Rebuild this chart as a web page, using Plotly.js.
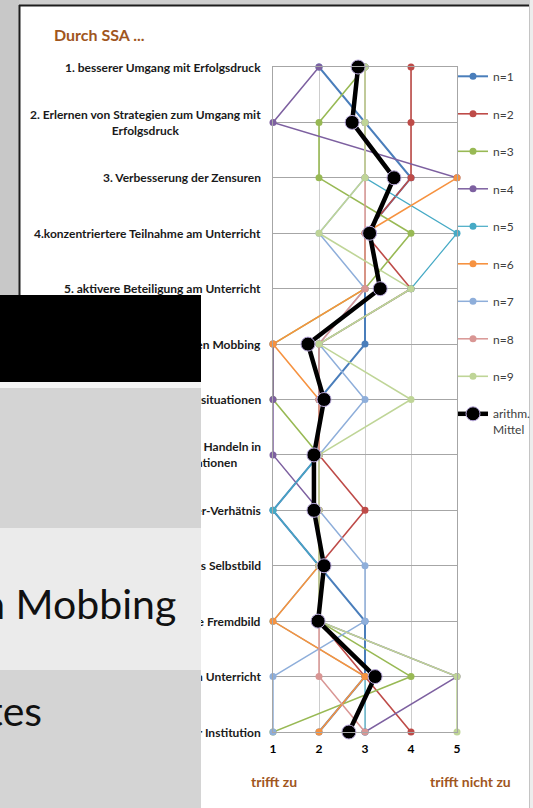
<!DOCTYPE html>
<html>
<head>
<meta charset="utf-8">
<script src="https://cdn.plot.ly/plotly-3.0.1.min.js"></script>
<style>html,body{margin:0;padding:0;overflow:hidden;background:#cfcfcf}</style>
</head>
<body>
<div id="chart" style="width:533px;height:808px"></div>
<script>
// ---------- data ----------
const categories = [
  "1. besserer Umgang mit Erfolgsdruck",
  "2. Erlernen von Strategien zum Umgang mit<br>Erfolgsdruck",
  "3. Verbesserung der Zensuren",
  "4.konzentriertere Teilnahme am Unterricht",
  "5. aktivere Beteiligung am Unterricht",
  "6. wirksameres Vorgehen gegen Mobbing",
  "7. besserer Umgang mit Konfliktsituationen",
  "8. sicheres und selbstbewusstes Handeln in<br>in schwierigen Konfliktsituationen",
  "9. besseres Lehrer-Schüler-Verhätnis",
  "10. positiveres Selbstbild",
  "11. das verbesserte Fremdbild",
  "12. mehr Motivation im schulischen Unterricht",
  "13. stärkere Identifikation mit der Institution"
];
const xTicks = [1, 2, 3, 4, 5];
const xTickLabels = ["1", "2", "3", "4", "5"];
const seriesNames = ["n=1","n=2","n=3","n=4","n=5","n=6","n=7","n=8","n=9"];
const n1 = [2,3,4,3,3,3,2,2,1,2,3,3,2];
const n2 = [4,4,4,3,4,2,2,2,3,2,2,3,4];
const n3 = [3,2,2,4,3,1,1,2,2,2,2,4,1];
const n4 = [2,1,5,null,null,1,1,1,2,2,2,5,3];
const n5 = [3,3,3,5,4,2,2,2,1,2,1,3,3];
const n6 = [null,null,5,3,3,1,2,2,2,2,1,3,2];
const n7 = [3,3,3,2,3,2,3,2,2,3,3,1,1];
const n8 = [3,3,3,3,3,2,2,2,2,2,2,2,3];
const n9 = [3,3,3,2,4,2,4,2,2,2,2,5,5];
const meanName = "arithm.<br>Mittel";
const mean = [2.85,2.72,3.63,3.1,3.33,1.76,2.11,1.89,1.89,2.11,1.98,3.22,2.65];

// ---------- styles ----------
const colors = ["#4A7EBB","#BE4B48","#98B954","#7D60A0","#46AAC5","#F69240","#8EAEDA","#D99694","#BFD597"];
const widths = [2,1.6,1.6,1.5,1.2,1.6,1.5,1.5,1.6];
const FONT = "Lato, 'Open Sans', sans-serif";
const BROWN = "#a0561e";

const allSeries = [n1,n2,n3,n4,n5,n6,n7,n8,n9];
const yPos = categories.map((c, i) => i + 1);

const traces = allSeries.map((vals, i) => ({
  type: "scatter", mode: "lines+markers",
  x: vals, y: yPos, name: seriesNames[i],
  legendgroup: "g" + i,
  connectgaps: false,
  cliponaxis: false,
  line: {color: colors[i], width: widths[i]},
  marker: {color: colors[i], size: 7, line: {width: 0}}
}));
traces.push({
  type: "scatter", mode: "lines+markers",
  x: mean, y: yPos, name: meanName, legendgroup: "gm",
  cliponaxis: false,
  line: {color: "#000000", width: 4.5},
  marker: {color: "#000000", size: 14, line: {color: "#b9a9dc", width: 1}}
});

// ---------- pixel helpers (layout only) ----------
const ML = 273, MR = 76, MT = 67, MB = 76, W = 533, H = 808;
const PW = W - ML - MR, PH = H - MT - MB;
const X = px => (px - ML) / PW;
const Y = py => (H - MB - py) / PH;

function box(x0, x1, y0, y1, color) {
  return {xref: "paper", yref: "paper", x: X((x0 + x1) / 2), y: Y((y0 + y1) / 2),
    xanchor: "center", yanchor: "middle", width: x1 - x0, height: y1 - y0,
    bgcolor: color, text: " ", showarrow: false, borderpad: 0, borderwidth: 0};
}

const annotations = [];
annotations.push({xref: "paper", yref: "paper", x: X(52), y: Y(35), xanchor: "left", yanchor: "middle",
  text: "Durch SSA ...", showarrow: false, font: {family: FONT, size: 16, weight: 700, color: BROWN}});
categories.forEach((c, i) => {
  annotations.push({xref: "paper", yref: "y", x: X(263), y: yPos[i], xanchor: "right", yanchor: "middle",
    align: "center", text: c, showarrow: false,
    font: {family: FONT, size: 12, weight: 700, color: "#1a1a1a"}});
});
annotations.push({xref: "paper", yref: "paper", x: X(274), y: Y(781), xanchor: "center", yanchor: "middle",
  text: "trifft zu", showarrow: false, font: {family: FONT, size: 14, weight: 700, color: BROWN}});
annotations.push({xref: "paper", yref: "paper", x: X(470), y: Y(781), xanchor: "center", yanchor: "middle",
  text: "trifft nicht zu", showarrow: false, font: {family: FONT, size: 14, weight: 700, color: BROWN}});
// overlapping slide panels
annotations.push(box(0, 201, 295, 382, "#000000"));
annotations.push(box(0, 201, 382, 388, "#f4f4f4"));
annotations.push(box(0, 201, 388, 528, "#d4d4d4"));
annotations.push(box(0, 201, 528, 670, "#ebebeb"));
annotations.push(box(0, 201, 670, 808, "#d4d4d4"));
annotations.push({xref: "paper", yref: "paper", x: X(178), y: Y(603), xanchor: "right", yanchor: "middle",
  text: "Vorgehen gegen Mobbing", showarrow: false, font: {family: FONT, size: 41, color: "#111111"}});
annotations.push({xref: "paper", yref: "paper", x: X(44), y: Y(710), xanchor: "right", yanchor: "middle",
  text: "Förderung des Selbstwertes", showarrow: false, font: {family: FONT, size: 41, color: "#111111"}});

const shapes = [
  {type: "rect", xref: "paper", yref: "paper", x0: X(0), x1: X(19), y0: Y(0), y1: Y(808), layer: "below",
   fillcolor: "#c8c8c8", line: {width: 0}},
  {type: "rect", xref: "paper", yref: "paper", x0: X(20), x1: X(529), y0: Y(6), y1: Y(808), layer: "below",
   fillcolor: "#ffffff", line: {width: 0}},
  {type: "rect", xref: "paper", yref: "paper", x0: X(530), x1: X(533), y0: Y(0), y1: Y(808), layer: "below",
   fillcolor: "#ededed", line: {width: 0}},
  {type: "line", xref: "paper", yref: "paper", x0: X(19.5), x1: X(19.5), y0: Y(5), y1: Y(808), layer: "below",
   line: {color: "#1e1e1e", width: 2}},
  {type: "line", xref: "paper", yref: "paper", x0: X(19), x1: X(529), y0: Y(5.5), y1: Y(5.5), layer: "below",
   line: {color: "#1e1e1e", width: 2}},
  {type: "line", xref: "paper", yref: "paper", x0: X(529.5), x1: X(529.5), y0: Y(5), y1: Y(808), layer: "below",
   line: {color: "#c4c4c4", width: 1}}
];

const layout = {
  width: W, height: H, autosize: false,
  margin: {l: ML, r: MR, t: MT, b: MB, pad: 0, autoexpand: false},
  paper_bgcolor: "#cfcfcf", plot_bgcolor: "rgba(0,0,0,0)",
  font: {family: FONT, color: "#000"},
  showlegend: true,
  legend: {x: X(453), y: Y(62), xanchor: "left", yanchor: "top", valign: "top",
    bgcolor: "rgba(0,0,0,0)", borderwidth: 0, traceorder: "grouped", tracegroupgap: 18.5,
    itemwidth: 30, font: {family: FONT, size: 12, color: "#404040"}},
  xaxis: {range: [1, 5], tickvals: xTicks, ticktext: xTickLabels, showgrid: true, gridcolor: "#cdcdcd",
    gridwidth: 1, zeroline: false, showline: true, mirror: true, linecolor: "#a6a6a6", linewidth: 1,
    ticks: "", ticklabelstandoff: 6, tickfont: {family: FONT, size: 12, weight: 700, color: "#000"},
    fixedrange: true, automargin: false},
  yaxis: {range: [13, 1], tickvals: yPos, showticklabels: false, showgrid: true, gridcolor: "#a6a6a6",
    gridwidth: 1, zeroline: false, showline: true, mirror: true, linecolor: "#a6a6a6", linewidth: 1,
    ticks: "", fixedrange: true, automargin: false},
  annotations: annotations,
  shapes: shapes
};

Plotly.newPlot("chart", traces, layout, {displayModeBar: false, staticPlot: true});
</script>
</body>
</html>
